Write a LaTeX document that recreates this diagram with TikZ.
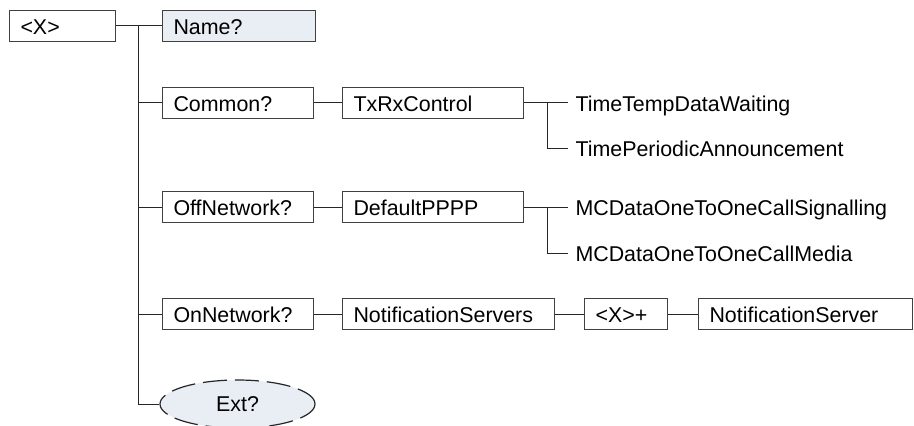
\documentclass[tikz,border=0pt]{standalone}
\usepackage{fontspec}
\setmainfont{Liberation Sans}
\usetikzlibrary{shapes.geometric}
\definecolor{nodefill}{RGB}{233,237,244}
\definecolor{nodeline}{RGB}{64,64,64}
\begin{document}
\begin{tikzpicture}[x=1pt,y=-1pt,line width=1pt,font=\fontsize{21.4}{25}\selectfont,
elem/.style={draw=nodeline,anchor=west,minimum height=31pt,text width=#1,inner xsep=11pt,inner ysep=0pt,text height=17pt,text depth=0pt,align=left},
leaf/.style={anchor=west,inner xsep=7pt,inner ysep=0pt,text height=17pt,text depth=0pt},
link/.style={draw=black!85},
extnode/.style={ellipse,draw=black!85,line width=1.2pt,dash pattern=on 24pt off 8pt,fill=nodefill,minimum width=155pt,minimum height=48pt,inner sep=0pt}]
\useasboundingbox (0,0) rectangle (914,426);
\node[elem=84pt] (x) at (9,25.5) {<X>};
\node[elem=131pt,fill=nodefill] (name) at (162,25.5) {Name?};
\node[elem=129pt] (common) at (162,102.5) {Common?};
\node[elem=159pt] (txrx) at (342,102.5) {TxRxControl};
\node[elem=129pt] (offnet) at (162,207) {OffNetwork?};
\node[elem=159pt] (pppp) at (342,207) {DefaultPPPP};
\node[elem=129pt] (onnet) at (162,314) {OnNetwork?};
\node[elem=190pt] (nservers) at (342,314) {NotificationServers};
\node[elem=61pt] (xplus) at (584,314) {<X>+};
\node[elem=192pt] (nserver) at (698,314) {NotificationServer};
\node[extnode] (ext) at (237.5,404) {Ext?};
\node[leaf] (ttdw) at (568,102.5) {TimeTempDataWaiting};
\node[leaf] (tpa) at (568,148) {TimePeriodicAnnouncement};
\node[leaf] (sig) at (568,207) {MCDataOneToOneCallSignalling};
\node[leaf] (media) at (568,253) {MCDataOneToOneCallMedia};
\coordinate (trunk) at (138,25.5);
\coordinate (fork1) at (547,102.5);
\coordinate (fork2) at (547,207);
\draw[link] (x.east) -- (trunk) |- (ext.west);
\foreach \n in {name,common,offnet,onnet}
 \draw[link] (trunk) |- (\n.west);
\foreach \a/\b in {common/txrx,offnet/pppp,onnet/nservers,nservers/xplus,xplus/nserver,txrx/ttdw,pppp/sig}
 \draw[link] (\a.east) -- (\b.west);
\draw[link] (fork1) |- (tpa.west);
\draw[link] (fork2) |- (media.west);
\end{tikzpicture}
\end{document}
